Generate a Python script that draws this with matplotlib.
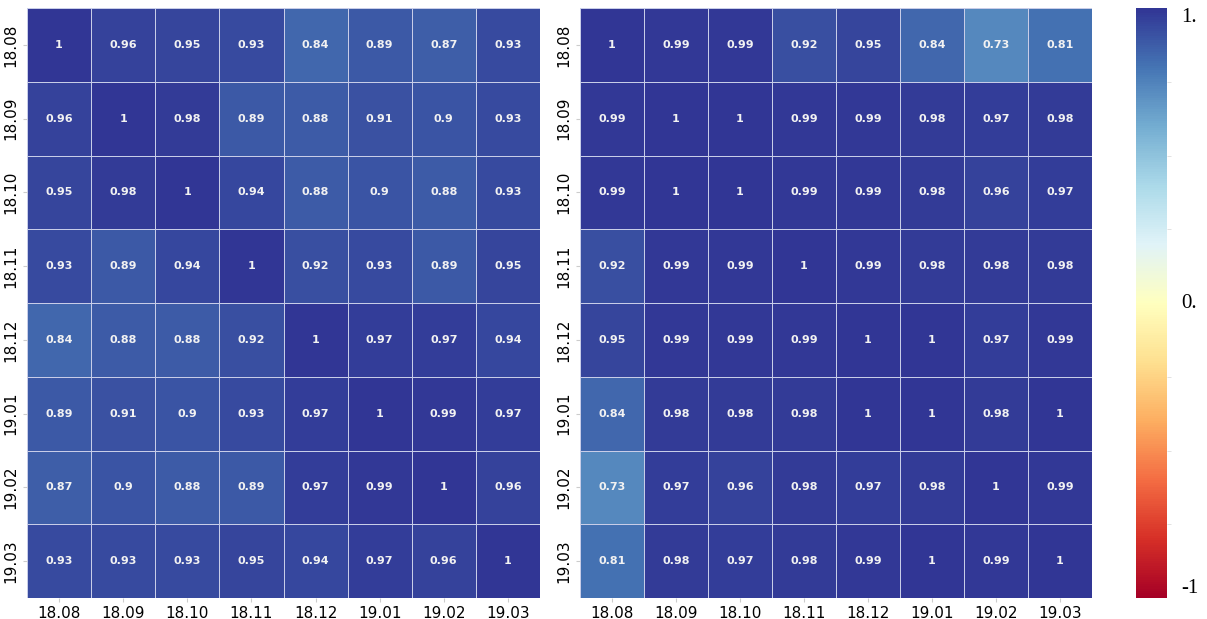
import numpy as np
import matplotlib
matplotlib.use("Agg")
import matplotlib.pyplot as plt
from matplotlib.colors import Normalize
import matplotlib.cm as cm

labels = ["18.08", "18.09", "18.10", "18.11", "18.12", "19.01", "19.02", "19.03"]

left_vals = [
    [1, 0.96, 0.95, 0.93, 0.84, 0.89, 0.87, 0.93],
    [0.96, 1, 0.98, 0.89, 0.88, 0.91, 0.9, 0.93],
    [0.95, 0.98, 1, 0.94, 0.88, 0.9, 0.88, 0.93],
    [0.93, 0.89, 0.94, 1, 0.92, 0.93, 0.89, 0.95],
    [0.84, 0.88, 0.88, 0.92, 1, 0.97, 0.97, 0.94],
    [0.89, 0.91, 0.9, 0.93, 0.97, 1, 0.99, 0.97],
    [0.87, 0.9, 0.88, 0.89, 0.97, 0.99, 1, 0.96],
    [0.93, 0.93, 0.93, 0.95, 0.94, 0.97, 0.96, 1],
]

right_vals = [
    [1, 0.99, 0.99, 0.92, 0.95, 0.84, 0.73, 0.81],
    [0.99, 1, 1, 0.99, 0.99, 0.98, 0.97, 0.98],
    [0.99, 1, 1, 0.99, 0.99, 0.98, 0.96, 0.97],
    [0.92, 0.99, 0.99, 1, 0.99, 0.98, 0.98, 0.98],
    [0.95, 0.99, 0.99, 0.99, 1, 1, 0.97, 0.99],
    [0.84, 0.98, 0.98, 0.98, 1, 1, 0.98, 1],
    [0.73, 0.97, 0.96, 0.98, 0.97, 0.98, 1, 0.99],
    [0.81, 0.98, 0.97, 0.98, 0.99, 1, 0.99, 1],
]

cbar_ticks = [1, 0, -1]
cbar_ticklabels = ["1.", "0.", "-1"]

W, H = 1207, 619
fig = plt.figure(figsize=(W / 100, H / 100), dpi=100)

cmap = plt.get_cmap("RdYlBu")
norm = Normalize(vmin=-1, vmax=1)


def fmt(v):
    s = f"{v:.2f}".rstrip("0").rstrip(".")
    return s


def draw(ax, vals):
    arr = np.array(vals, dtype=float)
    n = arr.shape[0]
    ax.pcolormesh(np.arange(n + 1), np.arange(n + 1), arr, cmap=cmap, norm=norm,
                  edgecolor="#c8cde8", linewidth=0.45)
    ax.set_xlim(0, n)
    ax.set_ylim(n, 0)
    for i in range(n):
        for j in range(n):
            ax.text(j + 0.5, i + 0.5, fmt(arr[i, j]), ha="center", va="center",
                    color="#f2f2f2", fontsize=8, fontweight="bold")
    ax.set_xticks(np.arange(n) + 0.5)
    ax.set_xticklabels(labels, fontsize=11)
    ax.set_yticks(np.arange(n) + 0.5)
    ax.set_yticklabels(labels, fontsize=11, rotation=90, va="center")
    ax.tick_params(length=3, color="#cccccc", pad=3)
    for s in ax.spines.values():
        s.set_visible(False)


ax1 = fig.add_axes([27 / W, 1 - 598 / H, (540 - 27) / W, (598 - 8) / H])
ax2 = fig.add_axes([580 / W, 1 - 598 / H, (1092 - 580) / W, (598 - 8) / H])
draw(ax1, left_vals)
draw(ax2, right_vals)

cax = fig.add_axes([1136 / W, 1 - 598 / H, (1167 - 1136) / W, (598 - 8) / H])
cb = fig.colorbar(cm.ScalarMappable(norm=norm, cmap=cmap), cax=cax)
cb.outline.set_visible(False)
cb.set_ticks(cbar_ticks)
cb.set_ticklabels(cbar_ticklabels)
cax.tick_params(length=0, labelsize=15, pad=10)
valign = {"1.": "top", "0.": "center", "-1": "bottom"}
for t in cax.get_yticklabels():
    t.set_family("Liberation Serif")
    t.set_verticalalignment(valign.get(t.get_text(), "center"))
cax.set_yticks(np.arange(-1, 1.01, 0.25), minor=True)
cax.tick_params(which="minor", length=3, color="#dddddd")

fig.savefig("out.png", dpi=100)
